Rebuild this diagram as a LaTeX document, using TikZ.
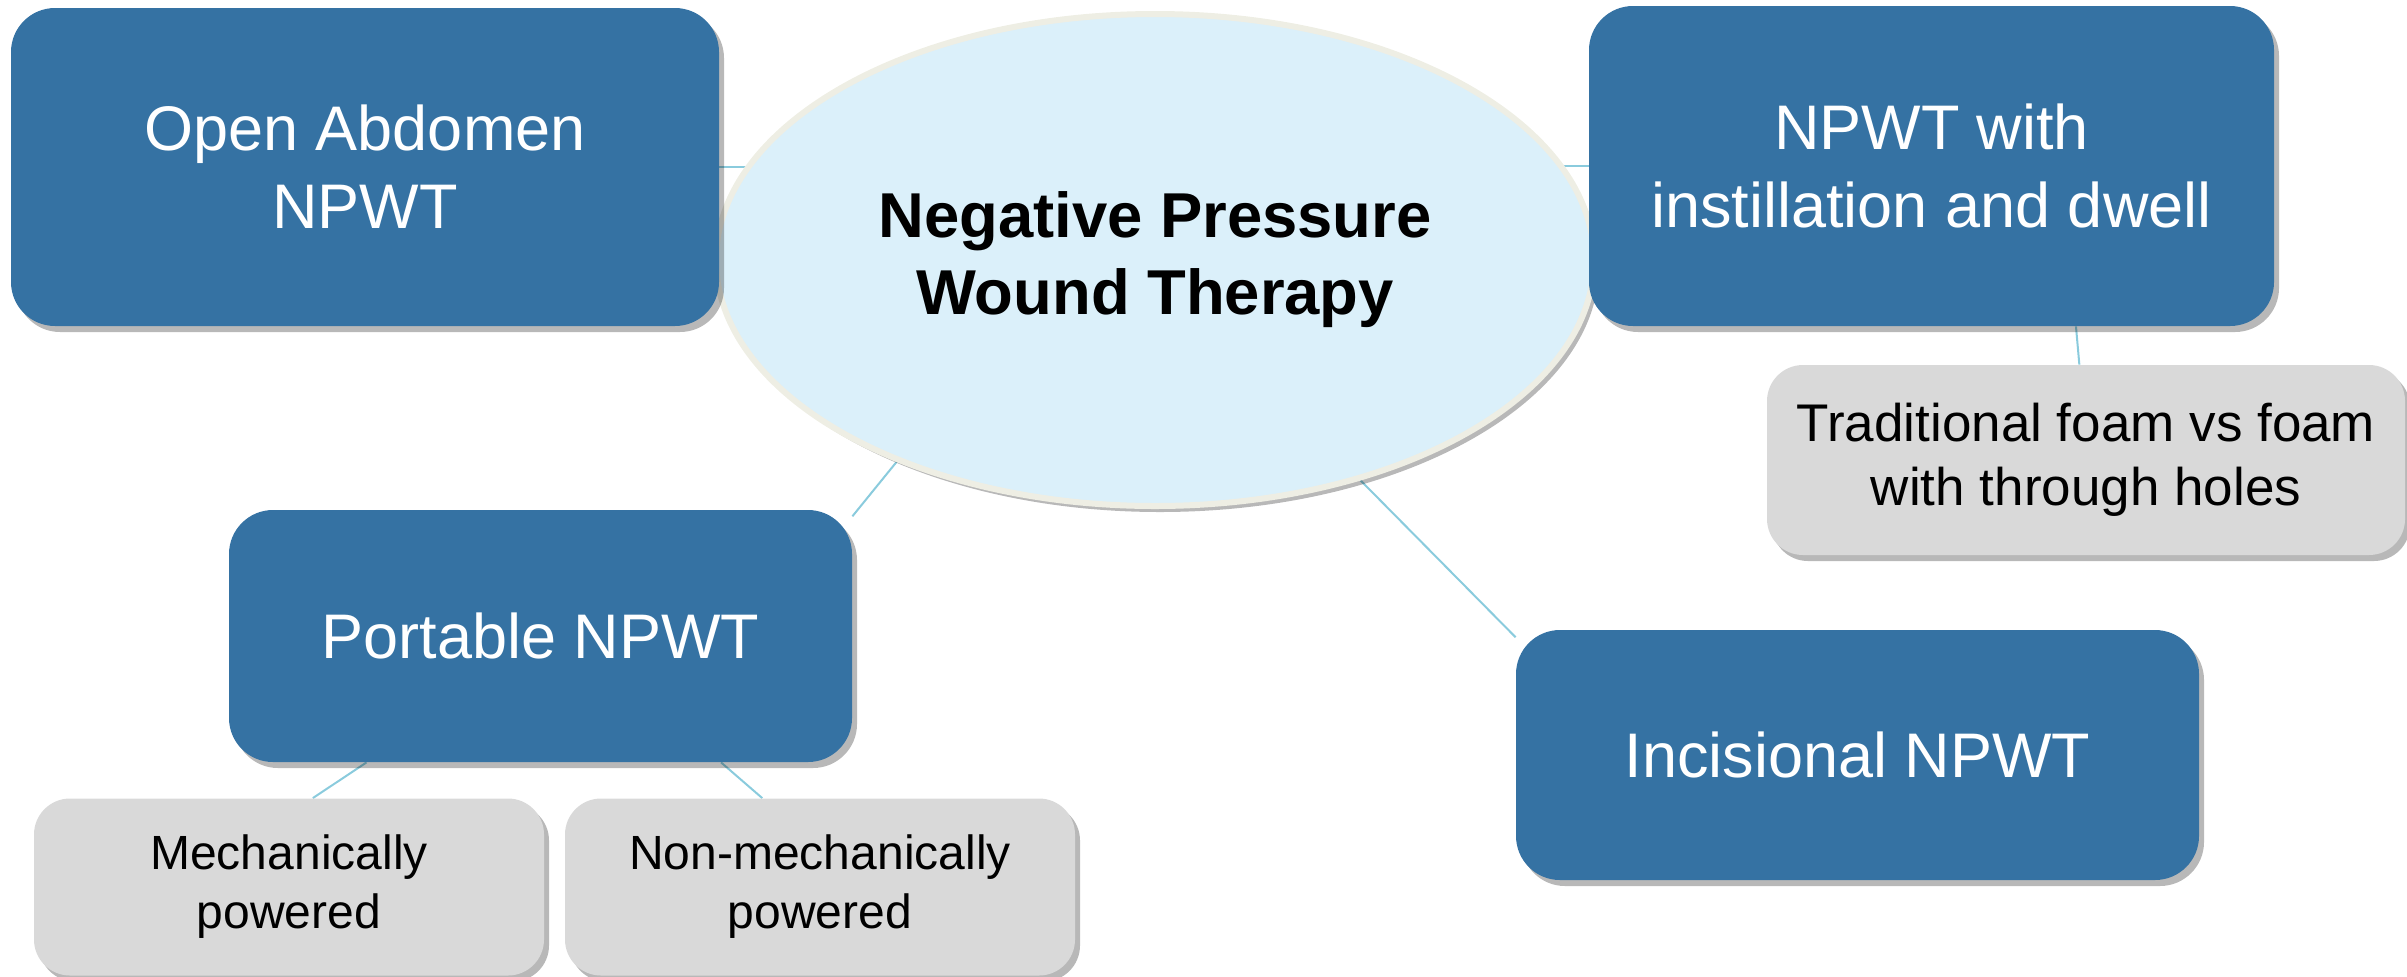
\documentclass[tikz,border=0pt]{standalone}
\usepackage{fontspec}
\setmainfont{Liberation Sans}
\usetikzlibrary{shadows,backgrounds,shapes.geometric}
\definecolor{boxblue}{HTML}{3572A3}
\definecolor{ellfill}{HTML}{DBF0FA}
\definecolor{ellline}{HTML}{EEEEE4}
\definecolor{graybox}{HTML}{D9D9D9}
\definecolor{conn}{HTML}{8ACBDD}
\begin{document}
\begin{tikzpicture}[x=0.5pt,y=-0.5pt,
  shadowstyle/.style={drop shadow={shadow xshift=2.5pt,shadow yshift=-3pt,opacity=0.28,fill=black}},
  mainbox/.style={rectangle,rounded corners=22pt,fill=boxblue,text=white,align=center,inner sep=0pt,
    font=\fontsize{31.5}{39}\selectfont,shadowstyle},
  subbox/.style={rectangle,rounded corners=18pt,fill=graybox,text=black,align=center,inner sep=0pt,shadowstyle},
  hub/.style={ellipse,fill=ellfill,draw=ellline,line width=3pt,inner sep=0pt,align=center,
    font=\fontsize{31.7}{38.5}\selectfont\bfseries,shadowstyle},
  link/.style={draw=conn,line width=1pt}
]
\useasboundingbox (0,0) rectangle (2407,976);

\node[hub,minimum width=439pt,minimum height=246pt] (el) at (1155,260) {Negative Pressure\\Wound Therapy};

\node[mainbox,minimum width=354pt,minimum height=159pt] (oa) at (365,167) {Open Abdomen\\NPWT};
\node[mainbox,minimum width=342.5pt,minimum height=160pt] (nw) at (1931.5,166) {NPWT with\\instillation and dwell};
\node[mainbox,minimum width=311.5pt,minimum height=126pt] (pn) at (540.5,636) {Portable NPWT};
\node[mainbox,minimum width=341.5pt,minimum height=125pt] (inc) at (1857.5,755) {Incisional NPWT};

\node[subbox,minimum width=319pt,minimum height=95pt,font=\fontsize{26.5}{32}\selectfont] (tf) at (2086,460) {Traditional foam vs foam\\with through holes};
\node[subbox,minimum width=255pt,minimum height=88.5pt,font=\fontsize{24}{29.5}\selectfont] (mp) at (289,887) {Mechanically\\powered};
\node[subbox,minimum width=255pt,minimum height=88.5pt,font=\fontsize{24}{29.5}\selectfont] (nm) at (820,887) {Non-mechanically\\powered};

\begin{scope}[on background layer]
  \draw[link] (oa.east) -- (oa.east -| el.center);
  \draw[link] (nw.west) -- (nw.west -| el.center);
  \draw[link] (el.218.6) -- (pn.21);
  \draw[link] (el.313) -- (inc.161);
  \draw[link] (nw.312.1) -- (tf.94.2);
  \draw[link] (pn.216.2) -- (mp.75.6);
  \draw[link] (pn.325.1) -- (nm.123.4);
\end{scope}
\end{tikzpicture}
\end{document}
